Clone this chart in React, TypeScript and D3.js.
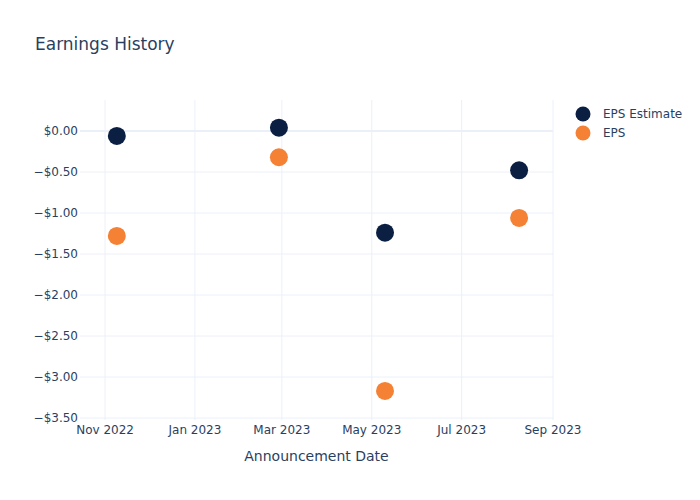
import React from "react";
import * as d3 from "d3";

const dates = ["2022-11-09", "2023-02-27", "2023-05-10", "2023-08-09"];
const epsEstimate = [-0.06, 0.04, -1.24, -0.48];
const eps = [-1.28, -0.32, -3.17, -1.06];
const yTicks = [0, -0.5, -1, -1.5, -2, -2.5, -3, -3.5];
const xTicks = ["2022-11-01", "2023-01-01", "2023-03-01", "2023-05-01", "2023-07-01", "2023-09-01"];
const seriesNames = ["EPS Estimate", "EPS"];
const seriesColors = ["#0b1f42", "#f58134"];

const W = 700, H = 500;
const M = { l: 80, r: 147, t: 100, b: 80 };
const parse = d3.timeParse("%Y-%m-%d");
const font = "'DejaVu Sans', sans-serif";
const textColor = "#2a3f5f";
const grid = "#ebf0f8";

export default function App() {
  const x = d3.scaleTime()
    .domain([parse("2022-10-15")!, parse("2023-09-01")!])
    .range([M.l, W - M.r]);
  const y = d3.scaleLinear().domain([-3.524, 0.378]).range([H - M.b, M.t]);
  const fmtX = d3.timeFormat("%b %Y");
  const fmtY = (v: number) => (v < 0 ? "\u2212" : "") + "$" + Math.abs(v).toFixed(2);
  const series = [epsEstimate, eps];
  return (
    <svg width={W} height={H} style={{ position: "absolute", left: 0, top: 0, background: "#fff" }}>
      <rect x={0} y={0} width={W} height={H} fill="#fff" />
      <text x={35} y={50} fontFamily={font} fontSize={17} fill={textColor}>Earnings History</text>
      {xTicks.map((t) => (
        <line key={t} x1={x(parse(t)!)} x2={x(parse(t)!)} y1={M.t} y2={H - M.b} stroke={grid} strokeWidth={1} />
      ))}
      {yTicks.map((t) => (
        <line key={t} x1={M.l} x2={W - M.r} y1={y(t)} y2={y(t)} stroke={grid} strokeWidth={t === 0 ? 2 : 1} />
      ))}
      {yTicks.map((t) => (
        <text key={t} x={M.l - 2} y={y(t)} dy="0.35em" textAnchor="end" fontFamily={font} fontSize={12} fill={textColor}>{fmtY(t)}</text>
      ))}
      {xTicks.map((t) => (
        <text key={t} x={x(parse(t)!)} y={H - M.b + 14} textAnchor="middle" fontFamily={font} fontSize={12} fill={textColor}>{fmtX(parse(t)!)}</text>
      ))}
      <text x={(M.l + W - M.r) / 2} y={461} textAnchor="middle" fontFamily={font} fontSize={14} fill={textColor}>Announcement Date</text>
      {series.map((s, si) =>
        s.map((v, i) => (
          <circle key={si + "-" + i} cx={x(parse(dates[i])!)} cy={y(v)} r={9} fill={seriesColors[si]} />
        ))
      )}
      {seriesNames.map((n, i) => (
        <g key={n} transform={`translate(583, ${114 + i * 19})`}>
          <circle cx={0} cy={0} r={7.5} fill={seriesColors[i]} />
          <text x={20} y={0} dy="0.35em" fontFamily={font} fontSize={12} fill={textColor}>{n}</text>
        </g>
      ))}
    </svg>
  );
}
